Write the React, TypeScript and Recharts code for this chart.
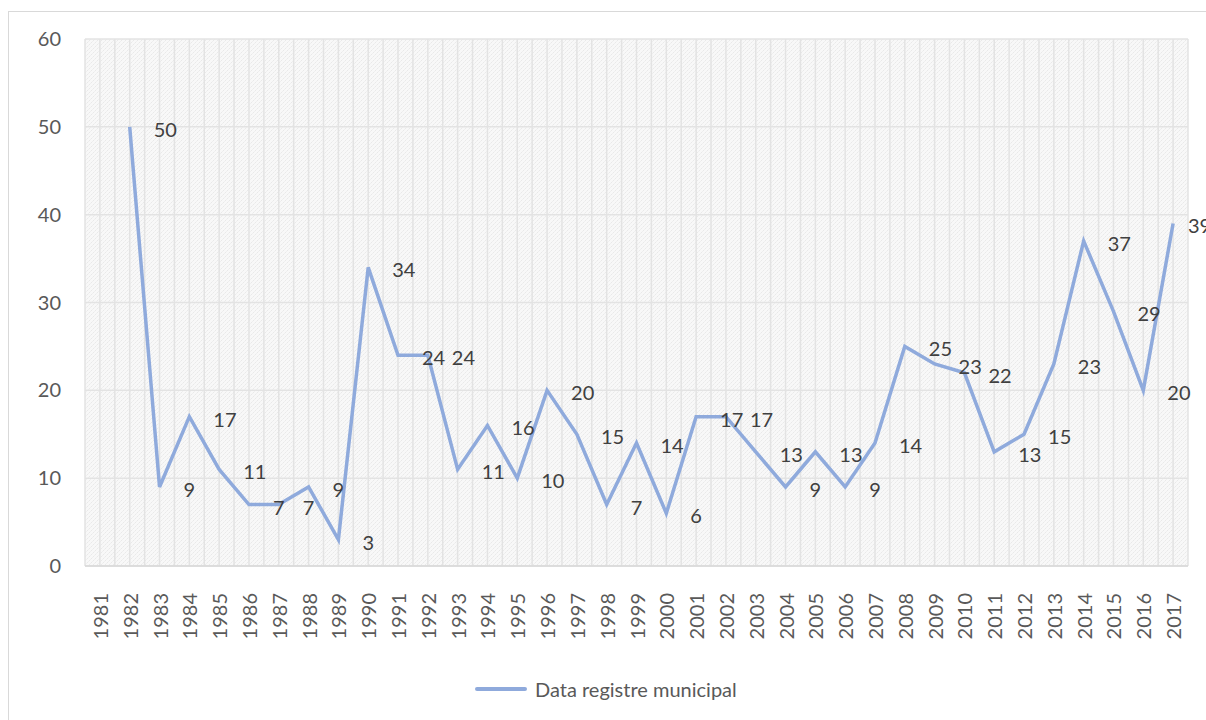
import { LineChart, Line, XAxis, YAxis, CartesianGrid, Legend, LabelList } from 'recharts'

// ─── Dades ────────────────────────────────────────────────────────────────────

const ANYS = [
  '1981', '1982', '1983', '1984', '1985', '1986', '1987', '1988', '1989', '1990',
  '1991', '1992', '1993', '1994', '1995', '1996', '1997', '1998', '1999', '2000',
  '2001', '2002', '2003', '2004', '2005', '2006', '2007', '2008', '2009', '2010',
  '2011', '2012', '2013', '2014', '2015', '2016', '2017',
]

const REGISTRE: (number | null)[] = [
  null, 50, 9, 17, 11, 7, 7, 9, 3, 34,
  24, 24, 11, 16, 10, 20, 15, 7, 14, 6,
  17, 17, 13, 9, 13, 9, 14, 25, 23, 22,
  13, 15, 23, 37, 29, 20, 39,
]

const Y_TICKS = [0, 10, 20, 30, 40, 50, 60]
const SERIE = 'Data registre municipal'

const data = ANYS.map((any, i) => ({ any, valor: REGISTRE[i] }))

// ─── Estils ───────────────────────────────────────────────────────────────────

const FONT = 'Lato, "Open Sans", sans-serif'
const LINIA = '#8faadc'
const GRIS_TEXT = '#595959'
const GRIS_GRAELLA = '#e3e3e3'
const AMPLE = 1197
const AMPLE_PLOT = AMPLE - 76 - 18
const MITJA_CAT = AMPLE_PLOT / ANYS.length / 2

// graella vertical: centre i límit de cada categoria (com Excel)
function verticals({ offset }: { offset: { left: number; width: number } }) {
  const n = ANYS.length
  const step = offset.width / n
  const pts: number[] = []
  for (let i = 0; i <= n * 2; i++) pts.push(offset.left + (step * i) / 2)
  return pts
}

function TickAny({ x, y, payload }: { x?: number; y?: number; payload?: { value: string } }) {
  return (
    <text
      transform={`translate(${x},${y}) rotate(-90)`}
      textAnchor="end"
      dominantBaseline="central"
      fill={GRIS_TEXT}
      fontSize={20}
      fontFamily={FONT}
    >
      {payload?.value}
    </text>
  )
}

function Etiqueta(props: any) {
  const { x, y, value } = props
  if (value == null) return null
  // l'última etiqueta queda arrambada a la vora, com a l'original
  return (
    <text
      x={Math.min(x + 24, AMPLE - 18)}
      y={y + 2}
      dominantBaseline="central"
      fill="#404040"
      fontSize={20}
      fontFamily={FONT}
    >
      {value}
    </text>
  )
}

function Llegenda() {
  return (
    <div style={{ height: 30, position: 'relative', fontFamily: FONT }}>
      <div style={{ position: 'absolute', left: 466, top: 13, width: 52, height: 4, background: LINIA, borderRadius: 2 }} />
      <span style={{ position: 'absolute', left: 526, top: 2, fontSize: 20, color: GRIS_TEXT, lineHeight: '26px' }}>
        {SERIE}
      </span>
    </div>
  )
}

export default function App() {
  return (
    <div style={{ position: 'fixed', left: 0, top: 0, width: 1206, height: 720, overflow: 'hidden', background: '#fff' }}>
      <div
        style={{
          position: 'absolute', left: 8, top: 11, width: 1300, height: 800,
          borderTop: '1px solid #d9d9d9', borderLeft: '1px solid #d9d9d9',
        }}
      >
        <LineChart
          width={AMPLE}
          height={708}
          data={data}
          margin={{ top: 27, right: 18, bottom: 16, left: 0 }}
        >
          <defs>
            <pattern id="trama" width="4" height="4" patternUnits="userSpaceOnUse">
              <rect width="4" height="4" fill="#f8f8f8" />
              <rect x="0" y="0" width="1" height="1" fill="#e9e9e9" />
              <rect x="2" y="2" width="1" height="1" fill="#e9e9e9" />
              <rect x="1" y="3" width="1" height="1" fill="#efefef" />
              <rect x="3" y="1" width="1" height="1" fill="#efefef" />
            </pattern>
          </defs>
          <CartesianGrid
            fill="url(#trama)"
            stroke={GRIS_GRAELLA}
            strokeWidth={1.5}
            verticalCoordinatesGenerator={verticals}
          />
          <XAxis
            dataKey="any"
            interval={0}
            height={108}
            padding={{ left: MITJA_CAT, right: MITJA_CAT }}
            tickLine={false}
            tickSize={0}
            tickMargin={27}
            axisLine={{ stroke: '#d9d9d9', strokeWidth: 1.5 }}
            tick={<TickAny />}
          />
          <YAxis
            domain={[0, 60]}
            ticks={Y_TICKS}
            width={76}
            axisLine={false}
            tickLine={false}
            tickSize={0}
            tickMargin={24}
            tick={{ fill: GRIS_TEXT, fontSize: 20, fontFamily: FONT }}
          />
          <Legend verticalAlign="bottom" wrapperStyle={{ left: 0, width: AMPLE }} content={<Llegenda />} />
          <Line
            type="linear"
            dataKey="valor"
            name={SERIE}
            stroke={LINIA}
            strokeWidth={3.5}
            dot={false}
            activeDot={false}
            isAnimationActive={false}
          >
            <LabelList dataKey="valor" content={<Etiqueta />} />
          </Line>
        </LineChart>
      </div>
    </div>
  )
}
